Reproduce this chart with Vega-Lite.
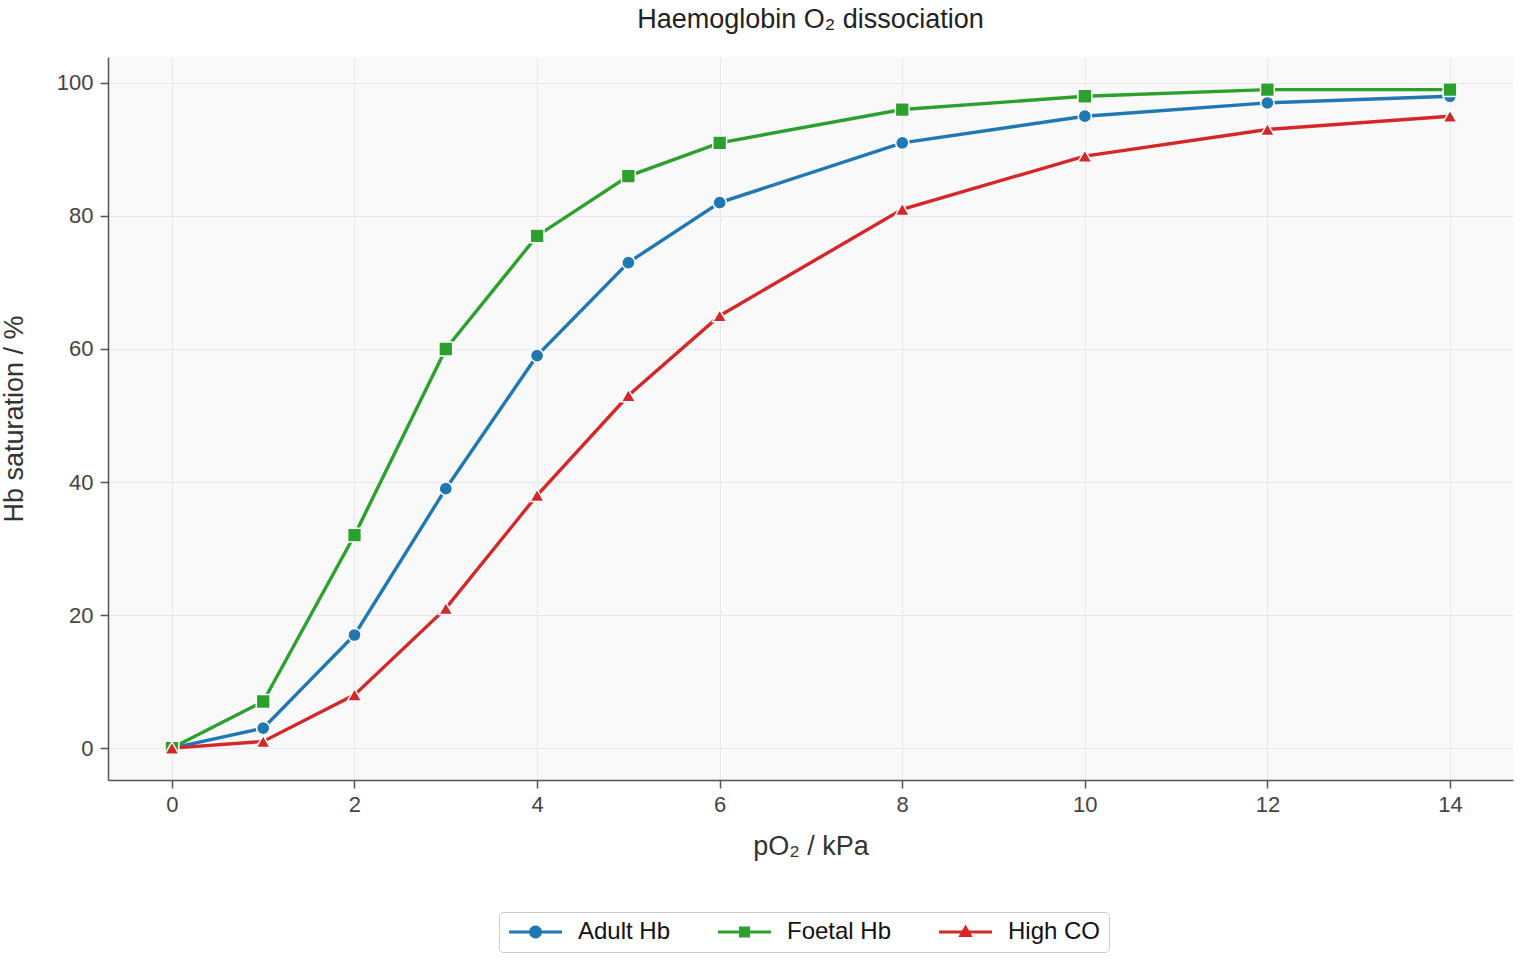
{
  "$schema": "https://vega.github.io/schema/vega-lite/v6.json",
  "width": 1405,
  "height": 723,
  "autosize": {"type": "none"},
  "padding": {"left": 108, "top": 57, "right": 7, "bottom": 180},
  "background": "white",
  "title": {
    "text": "Haemoglobin O₂ dissociation",
    "fontSize": 27,
    "fontWeight": "normal",
    "font": "Liberation Sans",
    "color": "#222222",
    "offset": 23
  },
  "config": {
    "view": {"fill": "#f9f9f9", "stroke": null},
    "font": "Liberation Sans",
    "axis": {
      "labelFont": "Liberation Sans",
      "titleFont": "Liberation Sans",
      "labelFontSize": 22,
      "titleFontSize": 27,
      "titleFontWeight": "normal",
      "labelColor": "#444444",
      "titleColor": "#333333",
      "domainColor": "#555555",
      "domainWidth": 1.5,
      "tickColor": "#555555",
      "tickWidth": 1.5,
      "tickSize": 8,
      "gridColor": "#e6e6eb",
      "gridWidth": 1
    }
  },
  "data": {
    "values": [
      {"p": 0, "sat": 0, "series": "Adult Hb"},
      {"p": 1, "sat": 3, "series": "Adult Hb"},
      {"p": 2, "sat": 17, "series": "Adult Hb"},
      {"p": 3, "sat": 39, "series": "Adult Hb"},
      {"p": 4, "sat": 59, "series": "Adult Hb"},
      {"p": 5, "sat": 73, "series": "Adult Hb"},
      {"p": 6, "sat": 82, "series": "Adult Hb"},
      {"p": 8, "sat": 91, "series": "Adult Hb"},
      {"p": 10, "sat": 95, "series": "Adult Hb"},
      {"p": 12, "sat": 97, "series": "Adult Hb"},
      {"p": 14, "sat": 98, "series": "Adult Hb"},
      {"p": 0, "sat": 0, "series": "Foetal Hb"},
      {"p": 1, "sat": 7, "series": "Foetal Hb"},
      {"p": 2, "sat": 32, "series": "Foetal Hb"},
      {"p": 3, "sat": 60, "series": "Foetal Hb"},
      {"p": 4, "sat": 77, "series": "Foetal Hb"},
      {"p": 5, "sat": 86, "series": "Foetal Hb"},
      {"p": 6, "sat": 91, "series": "Foetal Hb"},
      {"p": 8, "sat": 96, "series": "Foetal Hb"},
      {"p": 10, "sat": 98, "series": "Foetal Hb"},
      {"p": 12, "sat": 99, "series": "Foetal Hb"},
      {"p": 14, "sat": 99, "series": "Foetal Hb"},
      {"p": 0, "sat": 0, "series": "High CO"},
      {"p": 1, "sat": 1, "series": "High CO"},
      {"p": 2, "sat": 8, "series": "High CO"},
      {"p": 3, "sat": 21, "series": "High CO"},
      {"p": 4, "sat": 38, "series": "High CO"},
      {"p": 5, "sat": 53, "series": "High CO"},
      {"p": 6, "sat": 65, "series": "High CO"},
      {"p": 8, "sat": 81, "series": "High CO"},
      {"p": 10, "sat": 89, "series": "High CO"},
      {"p": 12, "sat": 93, "series": "High CO"},
      {"p": 14, "sat": 95, "series": "High CO"}
    ]
  },
  "encoding": {
    "x": {
      "field": "p",
      "type": "quantitative",
      "scale": {"domain": [-0.7, 14.69], "nice": false, "zero": false},
      "axis": {"values": [0, 2, 4, 6, 8, 10, 12, 14], "title": "pO₂ / kPa", "titlePadding": 18, "labelPadding": 6}
    },
    "y": {
      "field": "sat",
      "type": "quantitative",
      "scale": {"domain": [-4.8, 103.9], "nice": false, "zero": false},
      "axis": {"values": [0, 20, 40, 60, 80, 100], "title": "Hb saturation / %", "titlePadding": 28, "labelPadding": 7}
    },
    "color": {
      "field": "series",
      "type": "nominal",
      "scale": {
        "domain": ["Adult Hb", "Foetal Hb", "High CO"],
        "range": ["#1f77b4", "#2ca02c", "#d62728"]
      },
      "legend": {
        "title": null,
        "orient": "none",
        "direction": "horizontal",
        "legendX": 391,
        "legendY": 855,
        "labelFontSize": 24,
        "labelFont": "Liberation Sans",
        "labelColor": "#111111",
        "symbolSize": 400,
        "symbolOpacity": 1,
        "symbolStrokeWidth": 0,
        "columnPadding": 45,
        "labelOffset": 47,
        "padding": 8,
        "strokeColor": "#cccccc",
        "cornerRadius": 4,
        "fillColor": "white"
      }
    }
  },
  "layer": [
    {
      "mark": {"type": "line", "strokeWidth": 3.4},
      "encoding": {"detail": {"field": "series"}}
    },
    {
      "transform": [{"filter": "datum.series === 'Adult Hb'"}],
      "mark": {"type": "point", "shape": "circle", "filled": true, "opacity": 1, "size": 175, "stroke": "white", "strokeWidth": 1.5}
    },
    {
      "transform": [{"filter": "datum.series === 'Foetal Hb'"}],
      "mark": {"type": "point", "shape": "square", "filled": true, "opacity": 1, "size": 190, "stroke": "white", "strokeWidth": 1.5}
    },
    {
      "transform": [{"filter": "datum.series === 'High CO'"}],
      "mark": {"type": "point", "shape": "triangle-up", "filled": true, "opacity": 1, "size": 200, "stroke": "white", "strokeWidth": 1.5}
    },
    {
      "mark": {"type": "point", "filled": true, "opacity": 0, "size": 400},
      "encoding": {
        "shape": {
          "field": "series",
          "type": "nominal",
          "scale": {
            "domain": ["Adult Hb", "Foetal Hb", "High CO"],
            "range": [
              "M-1,-0.15L1.018,-0.15A0.65,0.65 0 0 1 2.282,-0.15L4.3,-0.15L4.3,0.15L2.282,0.15A0.65,0.65 0 0 1 1.018,0.15L-1,0.15Z",
              "M-1,-0.15L1.1,-0.15L1.1,-0.55L2.2,-0.55L2.2,-0.15L4.3,-0.15L4.3,0.15L2.2,0.15L2.2,0.55L1.1,0.55L1.1,0.15L-1,0.15Z",
              "M-1,-0.15L1.304,-0.15L1.65,-0.75L1.996,-0.15L4.3,-0.15L4.3,0.15L2.168,0.15L2.37,0.5L0.93,0.5L1.132,0.15L-1,0.15Z"
            ]
          }
        }
      }
    }
  ]
}
